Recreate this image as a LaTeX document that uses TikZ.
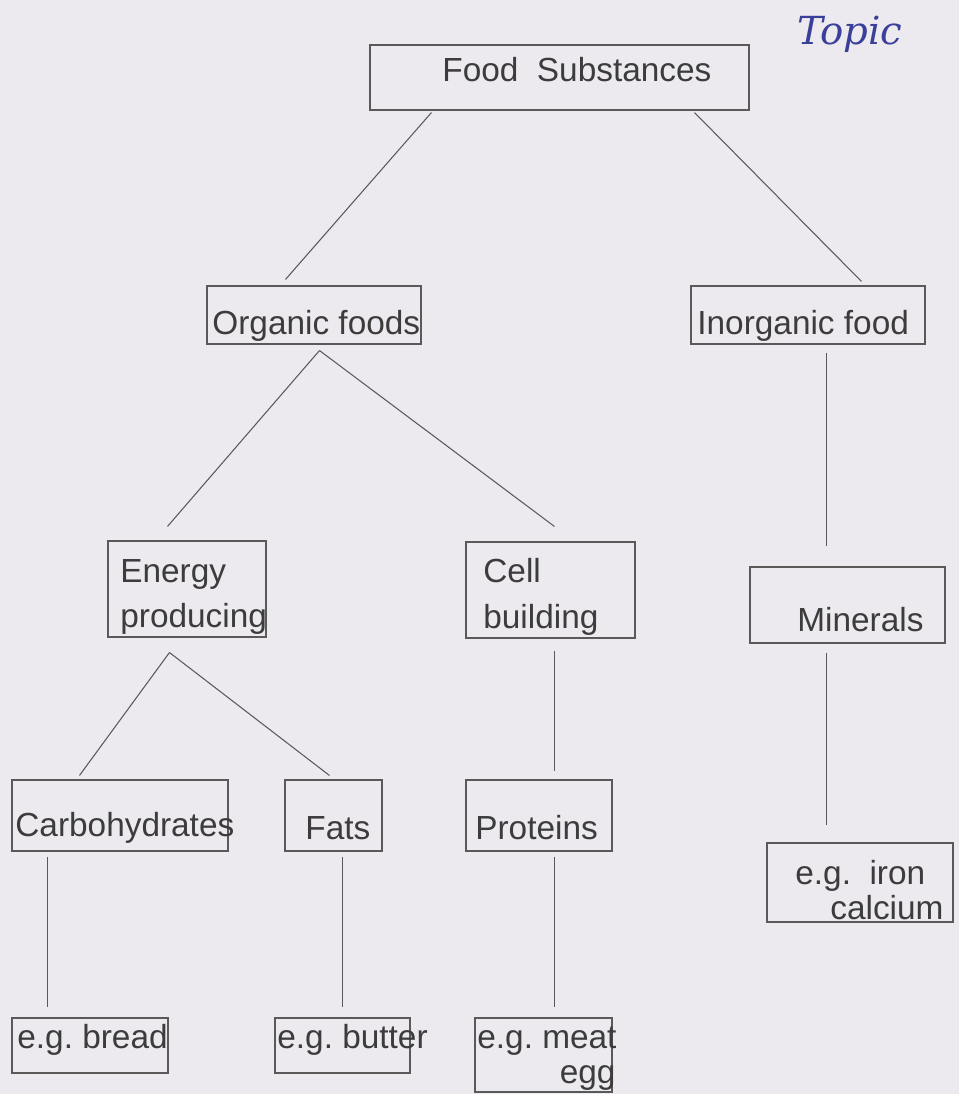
\documentclass[tikz,border=0pt]{standalone}
\usepackage{fontspec}
\setmainfont{Liberation Sans}
\newfontfamily\handfont{DejaVu Serif}
\usetikzlibrary{fit,calc}
\definecolor{paper}{HTML}{ECEAEF}
\definecolor{ink}{HTML}{3C3C3C}
\definecolor{pen}{HTML}{3A3F9A}

\begin{document}
\begin{tikzpicture}[x=0.02cm,y=-0.02cm,
                    box/.style={draw=ink!85,line width=0.6pt,inner sep=0pt,rectangle},
                    txt/.style={text=ink,anchor=west,inner sep=0pt,align=left,
                    font=\fontsize{19}{26}\selectfont},
                    link/.style={draw=ink!85,line width=0.6pt}
                   ]
   \fill[paper] (0,0) rectangle (959,1094);
   \useasboundingbox (0,0) rectangle (959,1094);

   % boxes
   \node[box,fit={(370,45) (749,110)}]    (food)   {};
   \node[box,fit={(207,286) (421,344)}]   (org)    {};
   \node[box,fit={(691,286) (925,344)}]   (inorg)  {};
   \node[box,fit={(108,541) (266,637)}]   (energy) {};
   \node[box,fit={(466,542) (635,638)}]   (cell)   {};
   \node[box,fit={(750,567) (945,643)}]   (min)    {};
   \node[box,fit={(12,780) (228,851)}]    (carbo)  {};
   \node[box,fit={(285,780) (382,851)}]   (fats)   {};
   \node[box,fit={(466,780) (612,851)}]   (prot)   {};
   \node[box,fit={(767,843) (953,922)}]   (iron)   {};
   \node[box,fit={(12,1018) (168,1073)}]  (bread)  {};
   \node[box,fit={(275,1018) (410,1073)}] (butter) {};
   \node[box,fit={(475,1018) (612,1092)}] (meat)   {};

   % texts
   \node[txt] (food-t)   at (442,70)  {Food\ \ Substances};
   \node[txt] (org-t)    at (212,326) {Organic foods};
   \node[txt] (inorg-t)  at (697,326) {Inorganic food};
   \node[txt] (energy-t) at (120,597) {Energy\\producing};
   \node[txt] (cell-t)   at (483,597) {Cell\\building};
   \node[txt] (min-t)    at (797,620) {Minerals};
   \node[txt] (carbo-t)  at (15,828)  {Carbohydrates};
   \node[txt] (fats-t)   at (305,828) {Fats};
   \node[txt] (prot-t)   at (475,828) {Proteins};
   \node[txt] (iron-t)   at (795,890) {e.g.\ \ iron\\[-6pt]\hspace*{0.7cm}calcium};
   \node[txt] (bread-t)  at (17,1040) {e.g.\ bread};
   \node[txt] (butter-t) at (277,1040) {e.g.\ butter};
   \node[txt] (meat-t)   at (477,1059) {e.g.\ meat\\[-6pt]\hspace*{1.65cm}egg};
   \node[text=pen,font=\handfont\itshape\fontsize{22}{26}\selectfont] (topic) at (850,34) {Topic};

   % connectors
   \path[link]%
     ($(food.south west)+(62,2)$)    edge ($(org.north west)+(79,-6)$)
     ($(food.south west)+(325,2)$)   edge ($(inorg.north west)+(171,-4)$)
     ($(org.south west)+(113,6)$)    edge ($(energy.north west)+(60,-14)$)
     ($(org.south west)+(113,6)$)    edge ($(cell.north west)+(89,-15)$)
     ($(energy.south west)+(62,15)$) edge ($(carbo.north west)+(68,-4)$)
     ($(energy.south west)+(62,15)$) edge ($(fats.north west)+(45,-4)$)
     ($(cell.south west)+(89,12)$)   edge ($(prot.north west)+(89,-8)$)
     ($(inorg.south west)+(136,8)$)  edge ($(min.north west)+(77,-20)$)
     ($(min.south west)+(77,9)$)     edge ($(iron.north west)+(60,-17)$)
     ($(carbo.south west)+(36,5)$)   edge ($(bread.north west)+(36,-10)$)
     ($(fats.south west)+(58,5)$)    edge ($(butter.north west)+(68,-10)$)
     ($(prot.south west)+(89,5)$)    edge ($(meat.north west)+(80,-10)$);
\end{tikzpicture}
\end{document}
